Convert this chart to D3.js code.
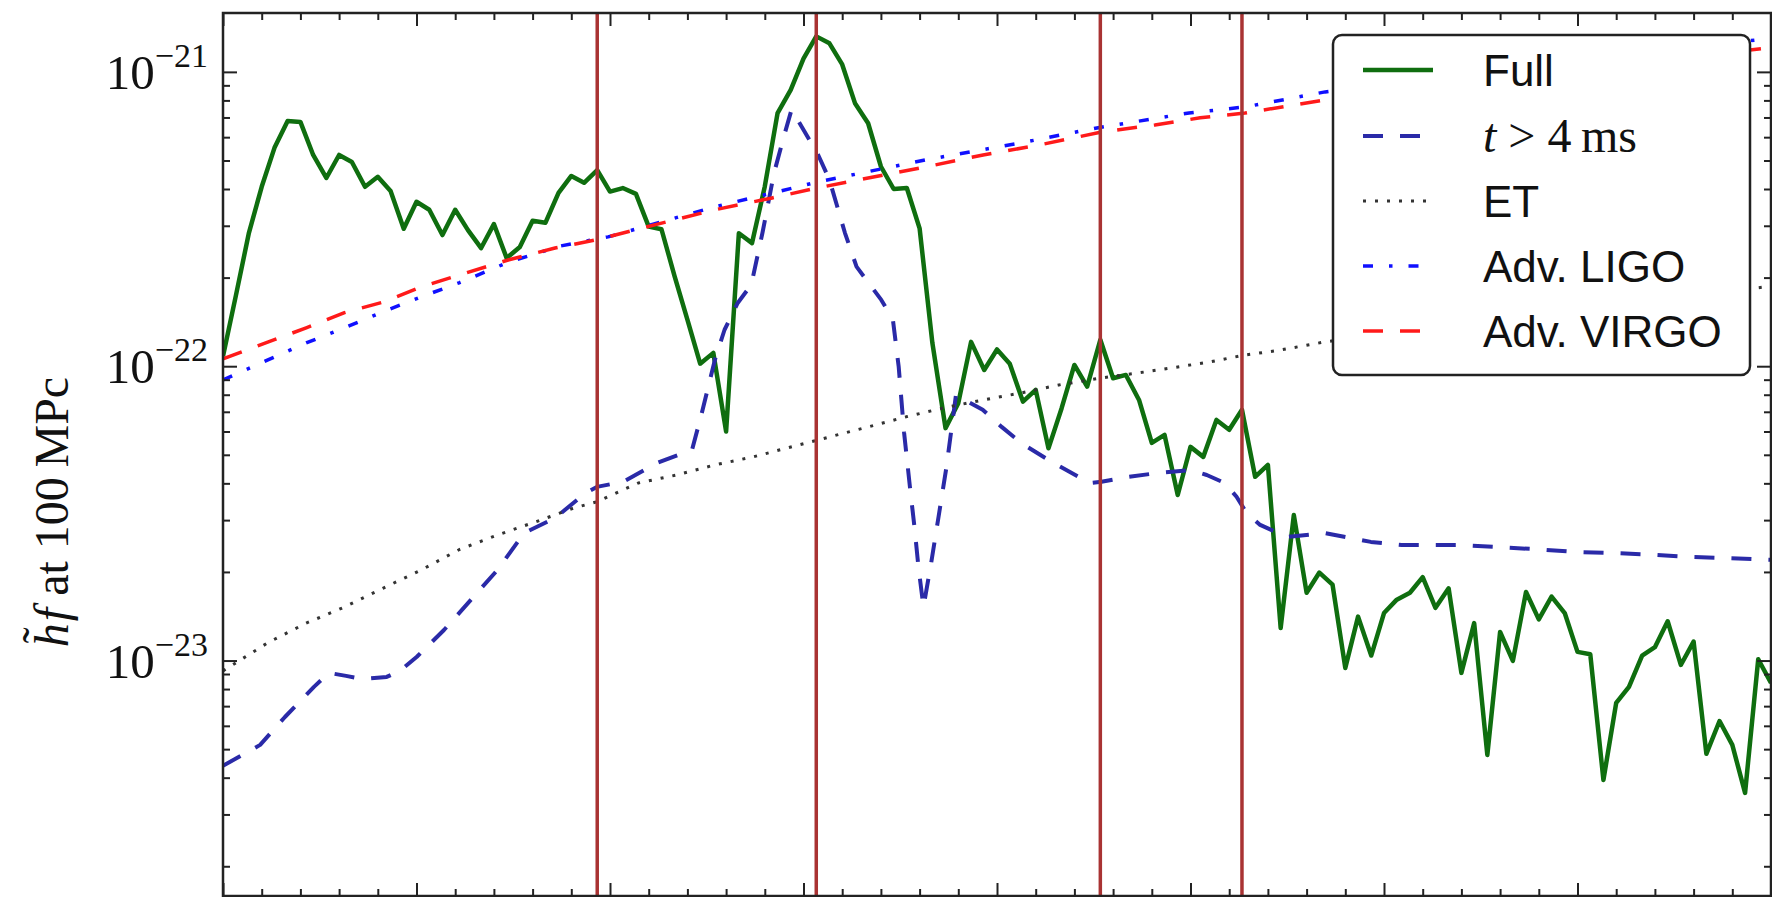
<!DOCTYPE html>
<html>
<head>
<meta charset="utf-8">
<script src="https://cdn.jsdelivr.net/npm/d3@7"></script>
<style>
  html, body { margin: 0; padding: 0; background: #fff; }
  svg { display: block; }
</style>
</head>
<body>
<svg id="chart"></svg>
<script>
// full spectrum, one value per frequency bin (Hz)
var fullFreq = [
  0, 33, 67, 100, 133, 167, 200, 233, 267, 300,
  333, 367, 400, 433, 467, 500, 533, 567, 600, 633,
  667, 700, 733, 767, 800, 833, 867, 900, 933, 967,
  1000, 1033, 1067, 1100, 1133, 1167, 1200, 1233, 1267, 1300,
  1333, 1367, 1400, 1433, 1467, 1500, 1533, 1567, 1600, 1633,
  1667, 1700, 1733, 1767, 1800, 1833, 1867, 1900, 1933, 1967,
  2000, 2033, 2067, 2100, 2133, 2167, 2200, 2233, 2267, 2300,
  2333, 2367, 2400, 2433, 2467, 2500, 2533, 2567, 2600, 2633,
  2667, 2700, 2733, 2767, 2800, 2833, 2867, 2900, 2933, 2967,
  3000, 3033, 3067, 3100, 3133, 3167, 3200, 3233, 3267, 3300,
  3333, 3367, 3400, 3433, 3467, 3500, 3533, 3567, 3600, 3633,
  3667, 3700, 3733, 3767, 3800, 3833, 3867, 3900, 3933, 3967,
  4000
];
var fullHf = [
  1.08e-22, 1.73e-22, 2.84e-22, 4.07e-22, 5.52e-22, 6.81e-22, 6.76e-22, 5.22e-22, 4.36e-22, 5.22e-22,
  4.94e-22, 4.07e-22, 4.40e-22, 3.94e-22, 2.93e-22, 3.62e-22, 3.40e-22, 2.79e-22, 3.40e-22, 2.90e-22,
  2.52e-22, 3.04e-22, 2.33e-22, 2.54e-22, 3.12e-22, 3.07e-22, 3.88e-22, 4.43e-22, 4.20e-22, 4.64e-22,
  3.92e-22, 4.03e-22, 3.85e-22, 2.98e-22, 2.92e-22, 2.02e-22, 1.44e-22, 1.02e-22, 1.11e-22, 6.00e-23,
  2.83e-22, 2.62e-22, 4.08e-22, 7.24e-22, 8.69e-22, 1.11e-21, 1.32e-21, 1.25e-21, 1.06e-21, 7.83e-22,
  6.69e-22, 4.77e-22, 4.00e-22, 4.03e-22, 2.94e-22, 1.20e-22, 6.16e-23, 7.49e-23, 1.21e-22, 9.71e-23,
  1.14e-22, 1.02e-22, 7.58e-23, 8.31e-23, 5.26e-23, 7.20e-23, 1.01e-22, 8.53e-23, 1.23e-22, 9.10e-23,
  9.34e-23, 7.68e-23, 5.49e-23, 5.84e-23, 3.65e-23, 5.32e-23, 4.92e-23, 6.57e-23, 6.08e-23, 7.11e-23,
  4.21e-23, 4.62e-23, 1.29e-23, 3.12e-23, 1.70e-23, 1.99e-23, 1.81e-23, 9.44e-24, 1.41e-23, 1.04e-23,
  1.45e-23, 1.61e-23, 1.70e-23, 1.92e-23, 1.51e-23, 1.76e-23, 9.08e-24, 1.34e-23, 4.78e-24, 1.25e-23,
  9.97e-24, 1.71e-23, 1.38e-23, 1.65e-23, 1.45e-23, 1.07e-23, 1.05e-23, 3.93e-24, 7.18e-24, 8.14e-24,
  1.04e-23, 1.11e-23, 1.36e-23, 9.66e-24, 1.16e-23, 4.82e-24, 6.23e-24, 5.17e-24, 3.55e-24, 1.01e-23,
  8.39e-24
];

// spectrum of the signal after t > 4 ms
var lateFreq = [
  0, 96, 160, 235, 274, 318, 359, 423, 457, 501,
  571, 641, 709, 778, 858, 937, 966, 1034, 1121, 1212,
  1236, 1271, 1296, 1330, 1365, 1394, 1424, 1449, 1469, 1488,
  1538, 1567, 1607, 1637, 1701, 1731, 1746, 1760, 1775, 1787,
  1797, 1810, 1830, 1849, 1869, 1894, 1963, 2012, 2062, 2141,
  2240, 2270, 2339, 2418, 2499, 2542, 2589, 2619, 2645, 2680,
  2749, 2848, 2966, 3046, 3194, 3293, 3392, 3490, 3589, 3688,
  3787, 3886, 4000
];
var lateHf = [
  4.39e-24, 5.17e-24, 6.43e-24, 8.14e-24, 9.08e-24, 8.87e-24, 8.66e-24, 8.80e-24, 9.22e-24, 1.03e-23,
  1.27e-23, 1.61e-23, 2.03e-23, 2.71e-23, 3.05e-23, 3.71e-23, 3.89e-23, 4.05e-23, 4.69e-23, 5.20e-23,
  6.83e-23, 1.05e-22, 1.33e-22, 1.64e-22, 1.89e-22, 2.84e-22, 4.54e-22, 6.01e-22, 7.43e-22, 6.76e-22,
  5.22e-22, 4.30e-22, 2.84e-22, 2.18e-22, 1.68e-22, 1.44e-22, 9.95e-23, 5.93e-23, 3.89e-23, 2.82e-23,
  2.08e-23, 1.52e-23, 2.15e-23, 3.08e-23, 4.51e-23, 7.99e-23, 7.11e-23, 6.22e-23, 5.49e-23, 4.73e-23,
  4.01e-23, 4.05e-23, 4.21e-23, 4.34e-23, 4.44e-23, 4.27e-23, 4.01e-23, 3.60e-23, 3.17e-23, 2.89e-23,
  2.63e-23, 2.71e-23, 2.53e-23, 2.47e-23, 2.47e-23, 2.43e-23, 2.39e-23, 2.34e-23, 2.32e-23, 2.29e-23,
  2.25e-23, 2.23e-23, 2.20e-23
];

// detector sensitivity curves
var etFreq = [0, 116, 215, 314, 413, 512, 610, 709, 808, 907, 966, 1073, 1172, 1271, 1370,
  1538, 1667, 1765, 1863, 1964, 2062, 2160, 2271, 2382, 2543, 2638, 2724, 2848, 3429, 4000];
var etHf = [9.22e-24, 1.15e-23, 1.34e-23, 1.52e-23, 1.76e-23, 2.03e-23, 2.38e-23, 2.67e-23, 2.96e-23, 3.30e-23,
  3.46e-23, 4.01e-23, 4.27e-23, 4.62e-23, 4.92e-23, 5.62e-23, 6.22e-23, 6.73e-23, 7.22e-23, 7.68e-23,
  8.11e-23, 8.64e-23, 9.13e-23, 9.56e-23, 1.03e-22, 1.09e-22, 1.13e-22, 1.21e-22, 1.51e-22, 1.87e-22];

var ligoFreq = [0, 116, 215, 314, 413, 512, 610, 739, 871, 995, 1271, 1538, 1814, 2062, 2258,
  2496, 2641, 2848, 3429, 4000];
var ligoHf = [8.98e-23, 1.05e-22, 1.20e-22, 1.35e-22, 1.53e-22, 1.72e-22, 1.92e-22, 2.26e-22, 2.56e-22, 2.75e-22,
  3.48e-22, 4.23e-22, 5.02e-22, 5.74e-22, 6.45e-22, 7.25e-22, 7.60e-22, 8.55e-22, 1.07e-21, 1.30e-21];

var virgoFreq = [0, 215, 314, 413, 512, 610, 739, 858, 966, 1123, 1271, 1419, 1538, 1667, 1814,
  1964, 2111, 2271, 2408, 2525, 2641, 2848, 3429, 4000];
var virgoHf = [1.06e-22, 1.35e-22, 1.52e-22, 1.65e-22, 1.86e-22, 2.04e-22, 2.30e-22, 2.52e-22, 2.69e-22, 3.04e-22,
  3.40e-22, 3.73e-22, 4.04e-22, 4.36e-22, 4.75e-22, 5.22e-22, 5.65e-22, 6.25e-22, 6.60e-22, 6.98e-22,
  7.25e-22, 8.03e-22, 9.92e-22, 1.21e-21];

// peak frequencies marked by vertical lines
var peakFreq = [967, 1533, 2267, 2633];

var xMajorTicks = [0, 500, 1000, 1500, 2000, 2500, 3000, 3500, 4000];
var yMajorTicks = [1e-23, 1e-22, 1e-21];
var yTickExp = ["\u221223", "\u221222", "\u221221"];
var yMinorMult = [2, 3, 4, 5, 6, 7, 8, 9];
var yDecades = [1e-24, 1e-23, 1e-22, 1e-21];

var legendNames = ["Full", "t > 4 ms", "ET", "Adv. LIGO", "Adv. VIRGO"];

(function () {
  var W = 1772, H = 897;
  var margin = { top: 13, right: 1, bottom: 1, left: 223 },
    width = W - margin.left - margin.right,
    height = H - margin.top - margin.bottom;

  var svg = d3.select("#chart")
    .attr("width", W)
    .attr("height", H);

  var g = svg.append("g")
    .attr("transform", "translate(" + margin.left + "," + margin.top + ")");

  var x = d3.scaleLinear()
    .domain([0, 4000])
    .range([0, width]);

  var y = d3.scaleLog()
    .domain([1.585e-24, 1.585e-21])
    .range([height, 0]);

  g.append("clipPath")
    .attr("id", "plotClip")
    .append("rect")
    .attr("width", width)
    .attr("height", height);

  var plot = g.append("g").attr("clip-path", "url(#plotClip)");

  function series(freq, vals) {
    return freq.map(function (f, i) {
      return { f: f, v: vals[i] };
    });
  }

  var line = d3.line()
    .x(function (d) { return x(d.f); })
    .y(function (d) { return y(d.v); });

  var styles = [
    { data: series(fullFreq, fullHf), color: "#0f6e0f", w: 4.5, dash: null },
    { data: series(lateFreq, lateHf), color: "#2a2aa8", w: 4, dash: "20,17" },
    { data: series(etFreq, etHf), color: "#333333", w: 3, dash: "3,9" },
    { data: series(ligoFreq, ligoHf), color: "#1010ff", w: 3.5, dash: "10,16,3.5,16" },
    { data: series(virgoFreq, virgoHf), color: "#ff1a1a", w: 3.5, dash: "20,17" }
  ];

  styles.forEach(function (s) {
    plot.append("path")
      .datum(s.data)
      .attr("fill", "none")
      .attr("stroke", s.color)
      .attr("stroke-width", s.w)
      .attr("stroke-linejoin", "round")
      .attr("stroke-dasharray", s.dash)
      .attr("d", line);
  });

  // vertical lines at the peaks
  plot.selectAll(".peak")
    .data(peakFreq)
    .enter().append("line")
    .attr("class", "peak")
    .attr("x1", function (d) { return x(d); })
    .attr("x2", function (d) { return x(d); })
    .attr("y1", 0)
    .attr("y2", height)
    .attr("stroke", "#a93333")
    .attr("stroke-width", 3.5);

  // ticks on all four sides, pointing inwards
  var xMinorTicks = d3.range(0, 4001, 100).filter(function (v) { return v % 500 != 0; });
  var yMinorTicks = [];
  yDecades.forEach(function (dec) {
    yMinorMult.forEach(function (m) {
      var v = dec * m;
      if (v >= y.domain()[0] && v <= y.domain()[1]) yMinorTicks.push(v);
    });
  });

  function addAxis(axis, transform) {
    var a = g.append("g")
      .attr("transform", transform)
      .call(axis);
    a.select(".domain").remove();
    a.selectAll("line").attr("stroke", "#222").attr("stroke-width", 2);
    a.selectAll("text").remove();
  }

  var tb = "translate(0," + height + ")";
  var tr = "translate(" + width + ",0)";
  addAxis(d3.axisBottom(x).tickValues(xMajorTicks).tickSize(-13).tickFormat(""), tb);
  addAxis(d3.axisBottom(x).tickValues(xMinorTicks).tickSize(-7).tickFormat(""), tb);
  addAxis(d3.axisTop(x).tickValues(xMajorTicks).tickSize(-13).tickFormat(""), "translate(0,0)");
  addAxis(d3.axisTop(x).tickValues(xMinorTicks).tickSize(-7).tickFormat(""), "translate(0,0)");
  addAxis(d3.axisLeft(y).tickValues(yMajorTicks).tickSize(-14).tickFormat(""), "translate(0,0)");
  addAxis(d3.axisLeft(y).tickValues(yMinorTicks).tickSize(-7).tickFormat(""), "translate(0,0)");
  addAxis(d3.axisRight(y).tickValues(yMajorTicks).tickSize(-14).tickFormat(""), tr);
  addAxis(d3.axisRight(y).tickValues(yMinorTicks).tickSize(-7).tickFormat(""), tr);

  // frame
  g.append("rect")
    .attr("width", width)
    .attr("height", height)
    .attr("fill", "none")
    .attr("stroke", "#222")
    .attr("stroke-width", 2.5);

  // y tick labels 10^-n
  var labels = g.selectAll(".ylab")
    .data(yMajorTicks)
    .enter().append("text")
    .attr("class", "ylab")
    .attr("x", -15)
    .attr("y", function (d) { return y(d) + 17; })
    .attr("text-anchor", "end")
    .style("font-family", "'Liberation Serif', serif")
    .style("font-size", "49px")
    .attr("fill", "#111");
  labels.append("tspan").text("10");
  labels.append("tspan")
    .attr("dy", -22)
    .style("font-size", "34px")
    .text(function (d, i) { return yTickExp[i]; });

  // y axis label
  var yl = svg.append("text")
    .attr("transform", "translate(68,512) rotate(-90)")
    .attr("text-anchor", "middle")
    .style("font-family", "'Liberation Serif', serif")
    .style("font-size", "48px")
    .attr("fill", "#111");
  yl.append("tspan").style("font-style", "italic").text("h");
  yl.append("tspan").attr("dx", -20).attr("dy", -12).text("\u02dc");
  yl.append("tspan").attr("dx", 6).attr("dy", 12).style("font-style", "italic").text("f");
  yl.append("tspan").text(" at 100\u2009MPc");

  // legend
  var lg = svg.append("g");
  lg.append("rect")
    .attr("x", 1333).attr("y", 35)
    .attr("width", 417).attr("height", 340)
    .attr("rx", 9)
    .attr("fill", "#fff")
    .attr("stroke", "#222")
    .attr("stroke-width", 2.5);

  var rowY = [70, 136, 201, 266, 331];
  styles.forEach(function (s, i) {
    lg.append("line")
      .attr("x1", 1363).attr("x2", 1433)
      .attr("y1", rowY[i]).attr("y2", rowY[i])
      .attr("stroke", s.color)
      .attr("stroke-width", s.w)
      .attr("stroke-dasharray", s.dash);
    var t = lg.append("text")
      .attr("x", 1483)
      .attr("y", rowY[i] + 16)
      .attr("fill", "#111");
    if (i == 1) {
      t.style("font-family", "'Liberation Serif', serif").style("font-size", "48px");
      t.append("tspan").style("font-style", "italic").text("t");
      t.append("tspan").text(" > 4\u2009ms");
    } else {
      t.style("font-family", "'Liberation Sans', Arial, sans-serif").style("font-size", "44px")
        .text(legendNames[i]);
    }
  });
})();
</script>
</body>
</html>
